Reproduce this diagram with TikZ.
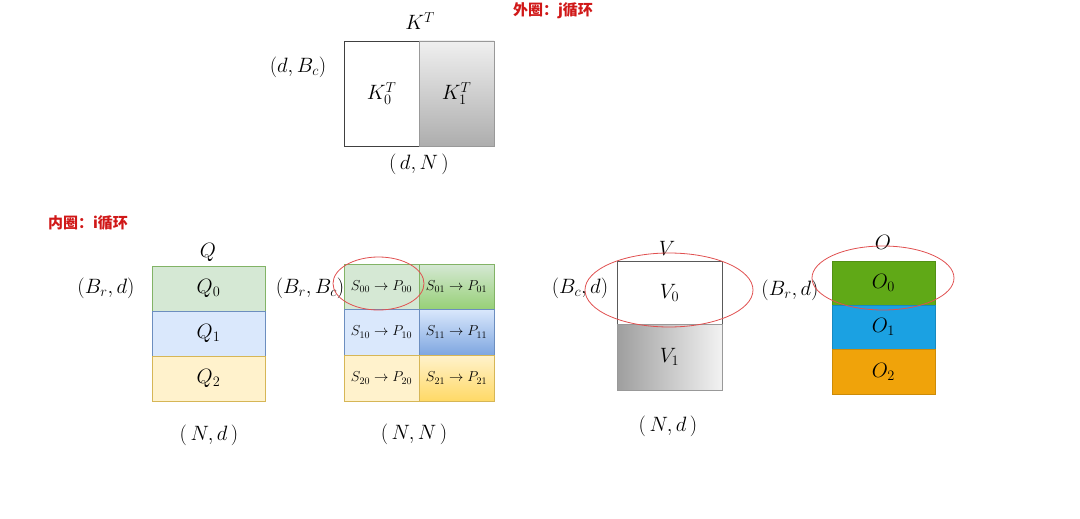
\documentclass[tikz,border=0pt]{standalone}
\usepackage{fontspec}
\newfontfamily\cjk{Noto Sans CJK SC}
\definecolor{qgreen}{HTML}{D5E8D4}
\definecolor{qgreenline}{HTML}{82B366}
\definecolor{qblue}{HTML}{DAE8FC}
\definecolor{qblueline}{HTML}{6C8EBF}
\definecolor{qyellow}{HTML}{FFF2CC}
\definecolor{qyellowline}{HTML}{D6B656}
\definecolor{sgreen}{HTML}{97D077}
\definecolor{sblue}{HTML}{7EA6E0}
\definecolor{syellow}{HTML}{FFD966}
\definecolor{ogreen}{HTML}{60A917}
\definecolor{oblue}{HTML}{1BA1E2}
\definecolor{oorange}{HTML}{F0A30A}
\definecolor{loopred}{HTML}{D01818}
\definecolor{ringred}{HTML}{E05050}
\newcommand{\lblsize}{\fontsize{19.5}{22}\selectfont}
\newcommand{\cellsize}{\fontsize{14.5}{17}\selectfont}
\begin{document}
\begin{tikzpicture}[x=1pt, y=-1pt, every node/.style={font=\lblsize, inner sep=0pt},
    blk/.style={draw, line width=0.7pt, minimum width=#1},
    loopnote/.style={font=\cjk\bfseries\fontsize{15}{17}\selectfont, text=loopred},
    ring/.style={draw=ringred, line width=0.8pt}]
    \useasboundingbox (0,0) rectangle (1080,519);
    % K^T
    \node (kt) at (420,21) {$K^T$};
    \node (kdim) at (298,67) {$(d,B_c)$};
    \node[blk=75pt, minimum height=105pt, draw=black!75, fill=white] (k0) at (381.5,93.5) {$K_0^T$};
    \node[blk=75pt, minimum height=105pt, draw=black!40, top color=black!6, bottom color=black!32] (k1) at (456.5,93.5) {$K_1^T$};
    \node (kshape) at (419,164) {$(\,d,N\,)$};
    \node[loopnote] (outer) at (553,11) {外圈：j循环};
    \node[loopnote] (inner) at (88,223) {内圈：i循环};
    % Q
    \node (q) at (208,252) {$Q$};
    \node (qdim) at (106,288) {$(B_r,d)$};
    \node[blk=113pt, minimum height=45pt, draw=qgreenline, fill=qgreen] (q0) at (208.5,288.5) {$Q_0$};
    \node[blk=113pt, minimum height=45pt, draw=qblueline, fill=qblue] (q1) at (208.5,333.5) {$Q_1$};
    \node[blk=113pt, minimum height=45pt, draw=qyellowline, fill=qyellow] (q2) at (208.5,378.5) {$Q_2$};
    \node (qshape) at (209,435) {$(\,N,d\,)$};
    % S -> P
    \node (sdim) at (310,288) {$(B_r,B_c)$};
    \begin{scope}[every node/.append style={font=\cellsize}]
    \node[blk=75pt, minimum height=45pt, draw=qgreenline, fill=qgreen] (s00) at (381.5,286.5) {$S_{00}\to P_{00}$};
    \node[blk=75pt, minimum height=45pt, draw=qgreenline, top color=qgreen, bottom color=sgreen] (s01) at (456.5,286.5) {$S_{01}\to P_{01}$};
    \node[blk=75pt, minimum height=46pt, draw=qblueline, fill=qblue] (s10) at (381.5,332) {$S_{10}\to P_{10}$};
    \node[blk=75pt, minimum height=46pt, draw=qblueline, top color=qblue, bottom color=sblue] (s11) at (456.5,332) {$S_{11}\to P_{11}$};
    \node[blk=75pt, minimum height=46pt, draw=qyellowline, fill=qyellow] (s20) at (381.5,378) {$S_{20}\to P_{20}$};
    \node[blk=75pt, minimum height=46pt, draw=qyellowline, top color=qyellow, bottom color=syellow] (s21) at (456.5,378) {$S_{21}\to P_{21}$};
    \end{scope}
    \node (sshape) at (414,434) {$(\,N,N\,)$};
    \draw[ring] (378.5,283.5) ellipse [x radius=45.5, y radius=26.5];
    % V
    \node (v) at (667,248) {$V$};
    \node (vdim) at (580,288) {$(B_c,d)$};
    \node[blk=105pt, minimum height=63pt, draw=black!65, fill=white] (v0) at (669.5,292.5) {$V_0$};
    \node[blk=105pt, minimum height=66pt, draw=black!40, left color=black!38, right color=black!5] (v1) at (669.5,357) {$V_1$};
    \node (vshape) at (668,426) {$(\,N,d\,)$};
    \draw[ring] (669,290) ellipse [x radius=84, y radius=37];
    % O
    \node (o) at (883,242) {$O$};
    \node (odim) at (790,290) {$(B_r,d)$};
    \node[blk=103pt, minimum height=44pt, draw=ogreen!85!black, fill=ogreen] (o0) at (883.5,283) {$O_0$};
    \node[blk=103pt, minimum height=44pt, draw=oblue!85!black, fill=oblue] (o1) at (883.5,327) {$O_1$};
    \node[blk=103pt, minimum height=45pt, draw=oorange!85!black, fill=oorange] (o2) at (883.5,371.5) {$O_2$};
    \draw[ring] (883,278) ellipse [x radius=71, y radius=32];
\end{tikzpicture}
\end{document}
